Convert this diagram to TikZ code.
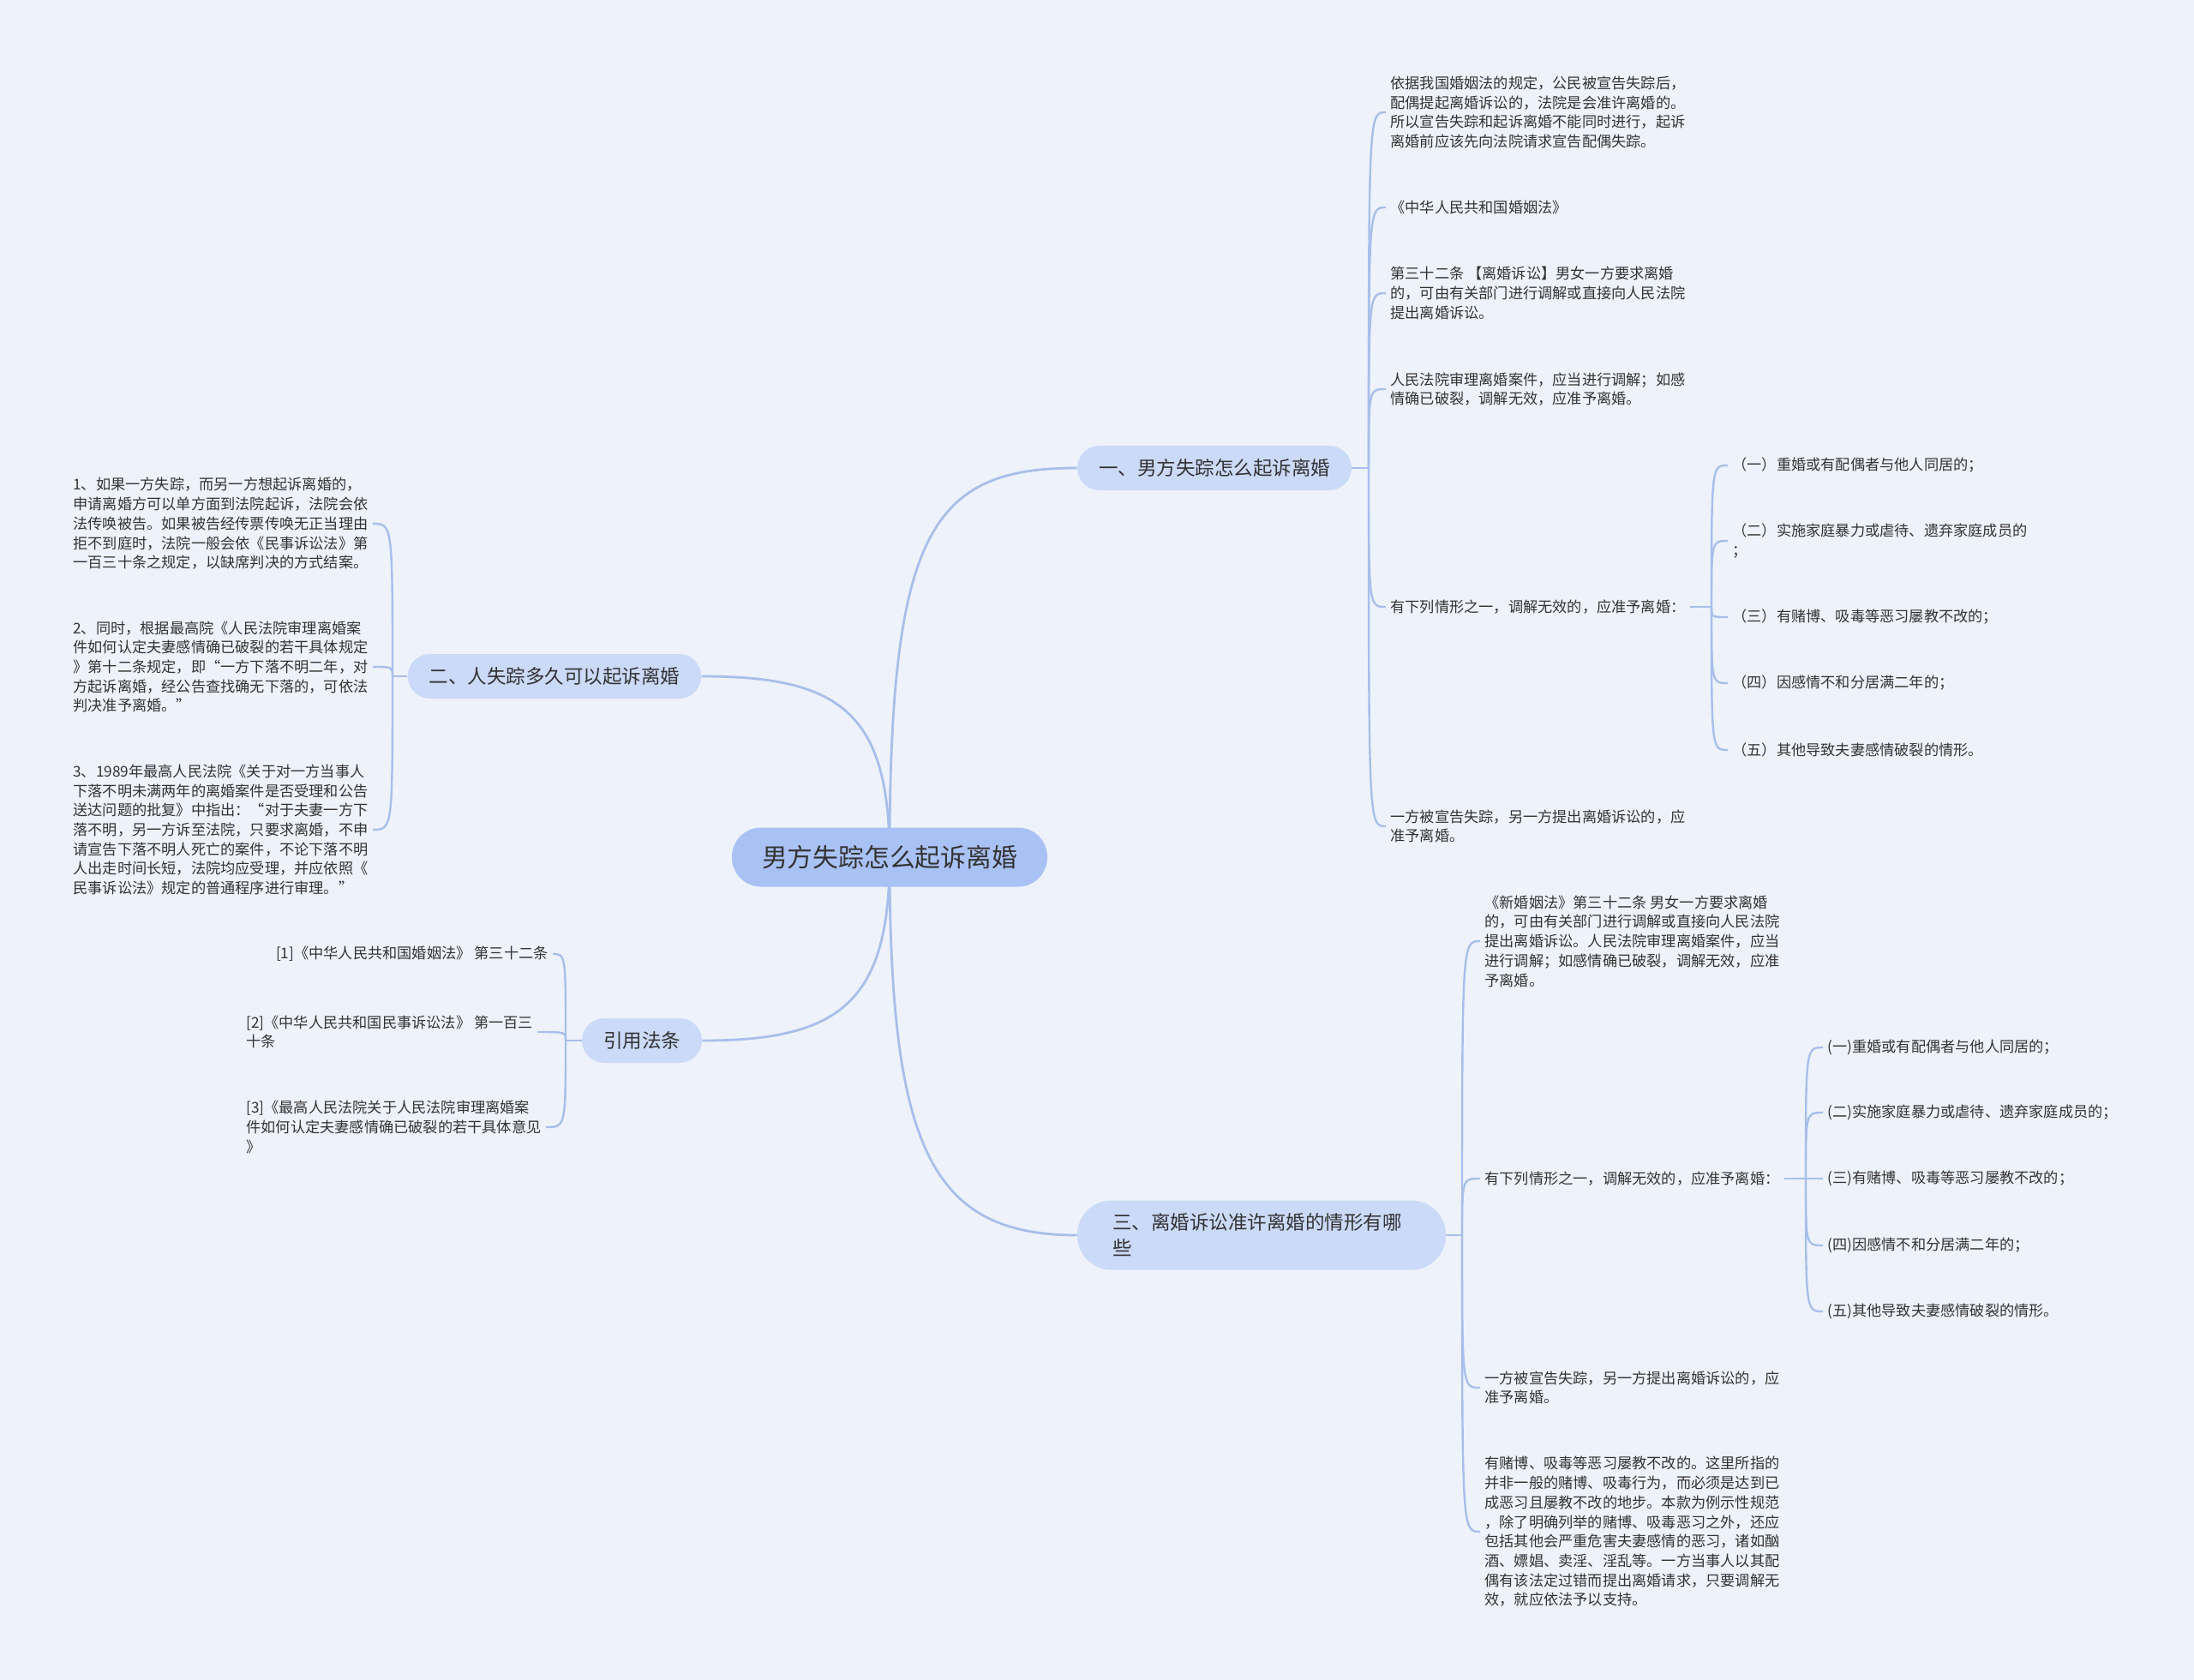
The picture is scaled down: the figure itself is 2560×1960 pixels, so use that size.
\documentclass[tikz,border=0pt]{standalone}
\usepackage{fontspec}
\setmainfont{Noto Sans CJK SC}
\usepackage{xcolor}
\usepackage{tikz}
\usetikzlibrary{backgrounds}
\definecolor{mbg}{HTML}{EEF2FA}
\definecolor{mroot}{HTML}{A9C2F5}
\definecolor{mtopic}{HTML}{CBDAF8}
\definecolor{mline}{HTML}{A8BFEB}
\definecolor{mtext}{HTML}{333333}
\tikzset{
  mrootnode/.style={rounded corners=17pt, fill=mroot, text=mtext,
                    font=\fontsize{14.9}{18}\selectfont,
                    minimum height=34.5pt, inner xsep=17.5pt},
  mtopicnode/.style={rounded corners=13pt, fill=mtopic, text=mtext,
                     font=\fontsize{11.25}{15}\selectfont,
                     minimum height=26pt, inner xsep=12.5pt},
  mleaf/.style={text=mtext, font=\fontsize{8.6}{11.35}\selectfont,
                align=left, inner xsep=2.5pt, inner ysep=1pt},
  mlink/.style={draw=mline, line width=1.4pt},
  mbrace/.style={draw=mline, line width=1.2pt},
}

\begin{document}
\begin{tikzpicture}[x=0.5pt,y=-0.5pt]
  \useasboundingbox (0,0) rectangle (2560,1960);

  % ---- centre ----
  \node[mrootnode] (root) at (1038,1000) {男方失踪怎么起诉离婚};

  \node[mtopicnode] (n1) at (1417,546) {一、男方失踪怎么起诉离婚};
  \node[mtopicnode] (n2) at (647,789) {二、人失踪多久可以起诉离婚};
  \node[mtopicnode] (n3) at (749,1214) {引用法条};
  \node[mtopicnode, rounded corners=20pt, text width=174pt, align=left,
        inner xsep=20.5pt, minimum height=40.5pt]
    (n4) at (1472,1441) {三、离婚诉讼准许离婚的情形有哪\\些};

  % ---- 一、男方失踪怎么起诉离婚 ----
  \node[mleaf, anchor=west] (a1) at (1617,131) {依据我国婚姻法的规定，公民被宣告失踪后，\\配偶提起离婚诉讼的，法院是会准许离婚的。\\所以宣告失踪和起诉离婚不能同时进行，起诉\\离婚前应该先向法院请求宣告配偶失踪。};
  \node[mleaf, anchor=west] (a2) at (1617,242) {《中华人民共和国婚姻法》};
  \node[mleaf, anchor=west] (a3) at (1617,342) {第三十二条 【离婚诉讼】男女一方要求离婚\\的，可由有关部门进行调解或直接向人民法院\\提出离婚诉讼。};
  \node[mleaf, anchor=west] (a4) at (1617,454) {人民法院审理离婚案件，应当进行调解；如感\\情确已破裂，调解无效，应准予离婚。};
  \node[mleaf, anchor=west] (a5) at (1617,708) {有下列情形之一，调解无效的，应准予离婚：};
  \node[mleaf, anchor=west] (a6) at (1617,964) {一方被宣告失踪，另一方提出离婚诉讼的，应\\准予离婚。};

  \node[mleaf, anchor=west] (b1) at (2016,543) {（一）重婚或有配偶者与他人同居的；};
  \node[mleaf, anchor=west] (b2) at (2016,631) {（二）实施家庭暴力或虐待、遗弃家庭成员的\\；};
  \node[mleaf, anchor=west] (b3) at (2016,720) {（三）有赌博、吸毒等恶习屡教不改的；};
  \node[mleaf, anchor=west] (b4) at (2016,797) {（四）因感情不和分居满二年的；};
  \node[mleaf, anchor=west] (b5) at (2016,875) {（五）其他导致夫妻感情破裂的情形。};

  % ---- 二、人失踪多久可以起诉离婚 ----
  \node[mleaf, anchor=west] (c1) at (80,611) {1、如果一方失踪，而另一方想起诉离婚的，\\申请离婚方可以单方面到法院起诉，法院会依\\法传唤被告。如果被告经传票传唤无正当理由\\拒不到庭时，法院一般会依《民事诉讼法》第\\一百三十条之规定，以缺席判决的方式结案。};
  \node[mleaf, anchor=west] (c2) at (80,778) {2、同时，根据最高院《人民法院审理离婚案\\件如何认定夫妻感情确已破裂的若干具体规定\\》第十二条规定，即“一方下落不明二年，对\\方起诉离婚，经公告查找确无下落的，可依法\\判决准予离婚。”};
  \node[mleaf, anchor=west] (c3) at (80,968) {3、1989年最高人民法院《关于对一方当事人\\下落不明未满两年的离婚案件是否受理和公告\\送达问题的批复》中指出：“对于夫妻一方下\\落不明，另一方诉至法院，只要求离婚，不申\\请宣告下落不明人死亡的案件，不论下落不明\\人出走时间长短，法院均应受理，并应依照《\\民事诉讼法》规定的普通程序进行审理。”};

  % ---- 引用法条 ----
  \node[mleaf, anchor=east] (d1) at (645,1113) {[1]《中华人民共和国婚姻法》 第三十二条};
  \node[mleaf, anchor=west] (d2) at (282,1204) {[2]《中华人民共和国民事诉讼法》 第一百三\\十条};
  \node[mleaf, anchor=west] (d3) at (282,1315) {[3]《最高人民法院关于人民法院审理离婚案\\件如何认定夫妻感情确已破裂的若干具体意见\\》};

  % ---- 三、离婚诉讼准许离婚的情形有哪些 ----
  \node[mleaf, anchor=west] (e1) at (1727,1098) {《新婚姻法》第三十二条 男女一方要求离婚\\的，可由有关部门进行调解或直接向人民法院\\提出离婚诉讼。人民法院审理离婚案件，应当\\进行调解；如感情确已破裂，调解无效，应准\\予离婚。};
  \node[mleaf, anchor=west] (e2) at (1727,1375) {有下列情形之一，调解无效的，应准予离婚：};
  \node[mleaf, anchor=west] (e3) at (1727,1619) {一方被宣告失踪，另一方提出离婚诉讼的，应\\准予离婚。};
  \node[mleaf, anchor=west] (e4) at (1727,1787) {有赌博、吸毒等恶习屡教不改的。这里所指的\\并非一般的赌博、吸毒行为，而必须是达到已\\成恶习且屡教不改的地步。本款为例示性规范\\，除了明确列举的赌博、吸毒恶习之外，还应\\包括其他会严重危害夫妻感情的恶习，诸如酗\\酒、嫖娼、卖淫、淫乱等。一方当事人以其配\\偶有该法定过错而提出离婚请求，只要调解无\\效，就应依法予以支持。};

  \node[mleaf, anchor=west] (f1) at (2127,1222) {(一)重婚或有配偶者与他人同居的；};
  \node[mleaf, anchor=west] (f2) at (2127,1298) {(二)实施家庭暴力或虐待、遗弃家庭成员的；};
  \node[mleaf, anchor=west] (f3) at (2127,1375) {(三)有赌博、吸毒等恶习屡教不改的；};
  \node[mleaf, anchor=west] (f4) at (2127,1453) {(四)因感情不和分居满二年的；};
  \node[mleaf, anchor=west] (f5) at (2127,1530) {(五)其他导致夫妻感情破裂的情形。};

  % split points
  \coordinate (s1) at (1597,546);
  \coordinate (s2) at (458,789);
  \coordinate (s3) at (660,1214);
  \coordinate (s4) at (1706,1441);
  \coordinate (t1) at (1997,708);
  \coordinate (t4) at (2107,1375);

  \begin{scope}[on background layer]
    \fill[mbg] (0,0) rectangle (2560,1960);
    % centre to topics
    \draw[mlink] (root.center) .. controls +(0,-380) and +(-170,0) .. (n1.west);
    \draw[mlink] (root.center) .. controls +(0,-170) and +(160,0) .. (n2.east);
    \draw[mlink] (root.center) .. controls +(0,170) and +(160,0) .. (n3.east);
    \draw[mlink] (root.center) .. controls +(0,340) and +(-170,0) .. (n4.west);
    % topics to leaves
    \draw[mbrace] (n1.east) -- (s1);
    \foreach \c in {a1,a2,a3,a4,a5,a6}
      \draw[mbrace] (s1) .. controls (s1 |- \c.west) .. (\c.west);
    \draw[mbrace] (a5.east) -- (t1);
    \foreach \c in {b1,b2,b3,b4,b5}
      \draw[mbrace] (t1) .. controls (t1 |- \c.west) .. (\c.west);
    \draw[mbrace] (n2.west) -- (s2);
    \foreach \c in {c1,c2,c3}
      \draw[mbrace] (s2) .. controls (s2 |- \c.east) .. (\c.east);
    \draw[mbrace] (n3.west) -- (s3);
    \foreach \c in {d1,d2,d3}
      \draw[mbrace] (s3) .. controls (s3 |- \c.east) .. (\c.east);
    \draw[mbrace] (n4.east) -- (s4);
    \foreach \c in {e1,e2,e3,e4}
      \draw[mbrace] (s4) .. controls (s4 |- \c.west) .. (\c.west);
    \draw[mbrace] (e2.east) -- (t4);
    \foreach \c in {f1,f2,f3,f4,f5}
      \draw[mbrace] (t4) .. controls (t4 |- \c.west) .. (\c.west);
  \end{scope}

\end{tikzpicture}
\end{document}
